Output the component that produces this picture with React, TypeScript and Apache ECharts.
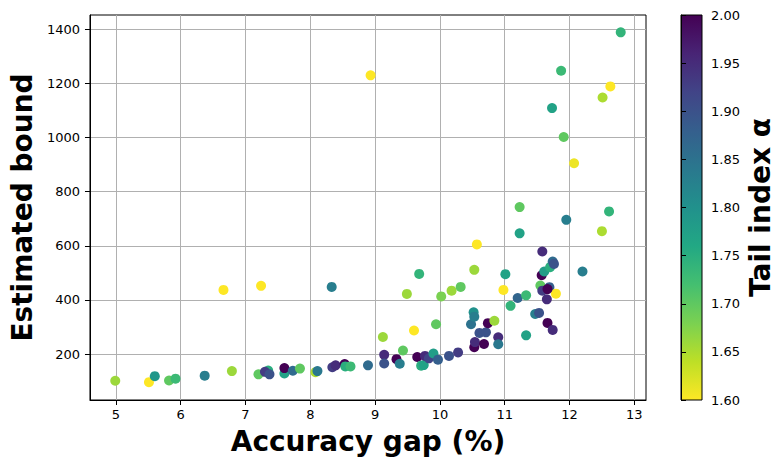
import React, { useEffect, useRef } from 'react';
import * as echarts from 'echarts';

const GAP = [
  4.99, 5.51, 5.6, 5.82, 5.92, 6.37, 6.66, 6.79, 7.24, 7.2,
  7.35, 7.3, 7.37, 7.6, 7.6, 7.73, 7.84, 8.08, 8.11, 8.33,
  8.34, 8.39, 8.53, 8.54, 8.62, 8.89, 8.93, 9.12, 9.14, 9.14,
  9.33, 9.38, 9.43, 9.49, 9.6, 9.65, 9.68, 9.71, 9.75, 9.77,
  9.83, 9.9, 9.94, 9.97, 10.02, 10.14, 10.18, 10.28, 10.32, 10.48,
  10.52, 10.53, 10.57, 10.53, 10.53, 10.54, 10.61, 10.71, 10.68, 10.74,
  10.84, 10.9, 10.9, 10.98, 11.01, 11.09, 11.2, 11.23, 11.23, 11.33,
  11.33, 11.47, 11.53, 11.58, 11.57, 11.55, 11.58, 11.61, 11.65, 11.66,
  11.69, 11.7, 11.74, 11.74, 11.76, 11.79, 11.95, 12.2, 12.5, 12.61,
  12.79, 11.87, 12.63, 12.51, 11.73, 11.91, 12.07, 11.66,
];
const BOUND = [
  101, 96, 118, 102, 109, 120, 437, 137, 452, 125,
  139, 134, 125, 128, 148, 138, 146, 133, 137, 448,
  151, 158, 163, 154, 154, 158, 1230, 263, 197, 165,
  181, 164, 213, 422, 287, 189, 496, 157, 159, 193,
  184, 202, 310, 179, 413, 193, 434, 206, 448, 310,
  354, 338, 605, 511, 225, 244, 278, 280, 237, 314,
  323, 262, 236, 437, 495, 378, 407, 743, 646, 417,
  269, 348, 352, 579, 491, 453, 434, 505, 402, 315,
  447, 521, 289, 542, 533, 423, 696, 505, 654, 727,
  1389, 1247, 1189, 1148, 1109, 1002, 905, 440,
];
const ALPHA = [
  1.66, 1.6, 1.79, 1.7, 1.73, 1.83, 1.6, 1.66, 1.6, 1.7,
  1.75, 1.93, 1.9, 1.77, 2.0, 1.86, 1.7, 1.65, 1.84, 1.83,
  1.93, 1.95, 2.0, 1.75, 1.73, 1.86, 1.6, 1.66, 1.95, 1.9,
  2.0, 1.83, 1.7, 1.66, 1.6, 2.0, 1.74, 1.75, 1.77, 1.95,
  1.92, 1.78, 1.7, 1.88, 1.68, 1.9, 1.66, 1.93, 1.7, 1.85,
  1.8, 1.83, 1.6, 1.66, 2.0, 1.95, 1.9, 1.9, 2.0, 2.0,
  1.66, 1.95, 1.84, 1.6, 1.77, 1.74, 1.87, 1.7, 1.77, 1.73,
  1.77, 1.83, 1.9, 1.95, 2.0, 1.7, 1.93, 1.78, 1.95, 2.0,
  1.88, 1.75, 1.95, 1.86, 1.9, 1.6, 1.83, 1.83, 1.65, 1.74,
  1.74, 1.73, 1.6, 1.65, 1.77, 1.7, 1.61, 2.0,
];

const X_TICKS = [5, 6, 7, 8, 9, 10, 11, 12, 13];
const Y_TICKS = [200, 400, 600, 800, 1000, 1200, 1400];
const ALPHA_MIN = 1.6;
const ALPHA_MAX = 2.0;
const ALPHA_STEP = 0.05;

const X_LABEL = 'Accuracy gap (%)';
const Y_LABEL = 'Estimated bound';
const CB_LABEL = 'Tail index α';

// viridis, low -> high
const VIRIDIS = ['#440154', '#482475', '#414487', '#355f8d', '#2a788e', '#21918c', '#22a884', '#44bf70', '#7ad151', '#bddf26', '#fde725'];
const VIRIDIS_R = [...VIRIDIS].reverse();

const FONT = 'DejaVu Sans';

export default function App() {
  const ref = useRef<HTMLDivElement>(null);
  useEffect(() => {
    document.body.style.margin = '0';
    if (!ref.current) return;
    const chart = echarts.init(ref.current, null, { renderer: 'svg' });
    const W = 784, H = 467;
    const grid = { left: 88, right: 138, top: 15, bottom: 67 };
    const cb = { left: 681, width: 21, top: 15, bottom: 67 };
    const data = GAP.map((g, i) => [g, BOUND[i], ALPHA[i]]);
    const stops = VIRIDIS.map((c, i) => ({ offset: 1 - i / (VIRIDIS.length - 1), color: c }))
      .sort((a, b) => a.offset - b.offset);
    // top of bar = high alpha = purple
    const gradStops = VIRIDIS.slice().reverse().map((c, i) => ({ offset: i / (VIRIDIS.length - 1), color: c }));
    const gradient = new echarts.graphic.LinearGradient(0, 1, 0, 0, VIRIDIS_R.map((c, i) => ({ offset: i / (VIRIDIS_R.length - 1), color: c })));
    void stops; void gradStops;
    const axisText = { color: '#000', fontFamily: FONT, fontSize: 13 };
    const nameText = { color: '#000', fontFamily: FONT, fontSize: 28, fontWeight: 'bold' as const };
    chart.setOption({
      animation: false,
      textStyle: { fontFamily: FONT },
      grid: [
        { ...grid, show: true, borderColor: '#000', borderWidth: 1, backgroundColor: 'transparent' },
        { left: cb.left, width: cb.width, top: cb.top, bottom: cb.bottom, show: false },
      ],
      xAxis: [
        {
          type: 'value', gridIndex: 0, min: 4.6, max: 13.18,
          minInterval: 1, maxInterval: 1,
          name: X_LABEL, nameLocation: 'middle', nameGap: 27, nameTextStyle: nameText,
          axisLine: { show: true, onZero: false, lineStyle: { color: '#000', width: 1 } },
          axisTick: { show: true, inside: false, length: 5, lineStyle: { color: '#000' }, customValues: X_TICKS },
          axisLabel: { ...axisText, margin: 8, customValues: X_TICKS, formatter: (v: number) => String(v) },
          splitLine: { show: true, lineStyle: { color: '#b0b0b0', width: 1 } },
        },
        { type: 'value', gridIndex: 1, show: false, min: 0, max: 1 },
      ],
      yAxis: [
        {
          type: 'value', gridIndex: 0, min: 30, max: 1453,
          name: Y_LABEL, nameLocation: 'middle', nameGap: 46, nameRotate: 90, nameTextStyle: nameText,
          axisLine: { show: true, onZero: false, lineStyle: { color: '#000', width: 1 } },
          axisTick: { show: true, inside: false, length: 5, lineStyle: { color: '#000' }, customValues: Y_TICKS },
          axisLabel: { ...axisText, margin: 10, customValues: Y_TICKS, formatter: (v: number) => String(v) },
          splitLine: { show: true, lineStyle: { color: '#b0b0b0', width: 1 } },
        },
        {
          type: 'value', gridIndex: 1, position: 'right', min: ALPHA_MIN, max: ALPHA_MAX, interval: ALPHA_STEP,
          name: CB_LABEL, nameLocation: 'middle', nameGap: 44, nameRotate: 90, nameTextStyle: nameText,
          axisLine: { show: true, lineStyle: { color: '#000', width: 1 } },
          axisTick: { show: true, inside: false, length: 5, lineStyle: { color: '#000' } },
          axisLabel: { ...axisText, margin: 9, formatter: (v: number) => v.toFixed(2) },
          splitLine: { show: false },
        },
      ],
      visualMap: {
        type: 'continuous', show: false, min: ALPHA_MIN, max: ALPHA_MAX, dimension: 2, seriesIndex: 0,
        inRange: { color: VIRIDIS_R },
      },
      graphic: [
        {
          type: 'rect', z: 0,
          shape: { x: cb.left, y: cb.top, width: cb.width, height: H - cb.top - cb.bottom },
          style: { fill: gradient, stroke: '#000', lineWidth: 1 },
        },
      ],
      series: [
        {
          type: 'scatter', xAxisIndex: 0, yAxisIndex: 0, data, symbolSize: 10,
          itemStyle: { opacity: 1 },
        },
      ],
    });
    void W;
    return () => chart.dispose();
  }, []);
  return <div ref={ref} style={{ width: 784, height: 467 }} />;
}
